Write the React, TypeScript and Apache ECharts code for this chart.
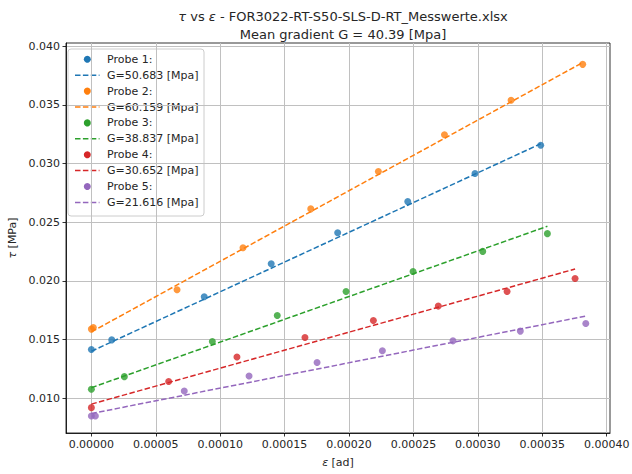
import React, { useEffect, useRef } from "react";
import * as echarts from "echarts";

// Measured shear stress tau [MPa] over shear strain eps [ad] for five specimens
const probeNames = ["Probe 1:", "Probe 2:", "Probe 3:", "Probe 4:", "Probe 5:"];
const gValues = [50.683, 60.159, 38.837, 30.652, 21.616];
const intercepts = [0.014, 0.01565, 0.0109, 0.0095, 0.0087];
const colors = ["#1f77b4", "#ff7f0e", "#2ca02c", "#d62728", "#9467bd"];

const probe1Eps = [0, 0.0000158, 0.0000876, 0.0001396, 0.0001912, 0.0002456, 0.0002978, 0.0003488];
const probe1Tau = [0.01415, 0.01497, 0.01864, 0.02146, 0.0241, 0.02675, 0.02914, 0.03155];

const probe2Eps = [0, 0.0000015, 0.0000665, 0.0001177, 0.0001703, 0.0002228, 0.0002741, 0.0003258, 0.0003814];
const probe2Tau = [0.01589, 0.01603, 0.01924, 0.02282, 0.02613, 0.02931, 0.03244, 0.03539, 0.03844];

const probe3Eps = [0, 0.0000256, 0.0000939, 0.0001443, 0.0001977, 0.0002497, 0.0003038, 0.000354];
const probe3Tau = [0.01077, 0.01184, 0.01483, 0.01705, 0.0191, 0.0208, 0.02251, 0.02402];

const probe4Eps = [0, 0.00006, 0.000113, 0.0001658, 0.0002189, 0.0002693, 0.0003227, 0.0003755];
const probe4Tau = [0.0092, 0.01142, 0.01352, 0.01517, 0.01662, 0.01785, 0.0191, 0.0202];

const probe5Eps = [0, 0.0000031, 0.0000721, 0.0001224, 0.0001752, 0.0002259, 0.0002807, 0.000333, 0.0003838];
const probe5Tau = [0.00849, 0.00849, 0.01062, 0.0119, 0.01304, 0.01404, 0.01489, 0.01572, 0.01637];

const epsSets = [probe1Eps, probe2Eps, probe3Eps, probe4Eps, probe5Eps];
const tauSets = [probe1Tau, probe2Tau, probe3Tau, probe4Tau, probe5Tau];

const xTicks = [0, 0.00005, 0.0001, 0.00015, 0.0002, 0.00025, 0.0003, 0.00035, 0.0004];
const yTicks = [0.01, 0.015, 0.02, 0.025, 0.03, 0.035, 0.04];

const X_MIN = -0.0000197;
const X_MAX = 0.0004026;
const Y_MIN = 0.00704;
const Y_MAX = 0.04026;

const FONT = "DejaVu Sans";
const TEXT = "#262626";

export default function App() {
  const ref = useRef<HTMLDivElement>(null);

  useEffect(() => {
    if (!ref.current) return;
    const chart = echarts.init(ref.current, null, { renderer: "svg" });

    const series: any[] = [];
    probeNames.forEach((name, i) => {
      const eps = epsSets[i];
      const tau = tauSets[i];
      series.push({
        type: "scatter",
        name,
        data: eps.map((e, k) => [e, tau[k]]),
        symbol: "circle",
        symbolSize: 7,
        itemStyle: { color: colors[i] },
        z: 2 + i * 2,
      });
      const x0 = Math.min(...eps);
      const x1 = Math.max(...eps);
      series.push({
        type: "line",
        name: "G=" + gValues[i].toFixed(3) + " [Mpa]",
        data: [
          [x0, intercepts[i] + gValues[i] * x0],
          [x1, intercepts[i] + gValues[i] * x1],
        ],
        showSymbol: false,
        symbol: "none",
        lineStyle: { color: colors[i], width: 1.5, type: [5.5, 2.4] },
        z: 3 + i * 2,
      });
    });

    // Legend drawn as a box of marker/line/text rows
    const legendX = 68;
    const legendY = 49;
    const rowStart = 59.3;
    const rowStep = 15.9;
    const legendChildren: any[] = [
      {
        type: "rect",
        shape: { x: legendX, y: legendY, width: 136, height: 167, r: 3 },
        style: { fill: "rgba(255,255,255,0.8)", stroke: "#cccccc", lineWidth: 1 },
      },
    ];
    probeNames.forEach((name, i) => {
      const yA = rowStart + rowStep * (2 * i);
      const yB = rowStart + rowStep * (2 * i + 1);
      legendChildren.push(
        { type: "circle", shape: { cx: 87.3, cy: yA, r: 3.5 }, style: { fill: colors[i] } },
        {
          type: "text",
          style: { x: 107, y: yA, text: name, fontSize: 11, fontFamily: FONT, fill: TEXT, verticalAlign: "middle", align: "left" },
        },
        {
          type: "line",
          shape: { x1: 75, y1: yB, x2: 99.5, y2: yB },
          style: { stroke: colors[i], lineWidth: 1.5, lineDash: [5.5, 2.4] },
        },
        {
          type: "text",
          style: {
            x: 107,
            y: yB,
            text: "G=" + gValues[i].toFixed(3) + " [Mpa]",
            fontSize: 11,
            fontFamily: FONT,
            fill: TEXT,
            verticalAlign: "middle",
            align: "left",
          },
        }
      );
    });

    const option: any = {
      animation: false,
      backgroundColor: "#ffffff",
      title: [
        {
          text: "{i|τ} vs {i|ε} - FOR3022-RT-S50-SLS-D-RT_Messwerte.xlsx",
          left: 338,
          top: 5,
          textAlign: "center",
          textStyle: {
            fontSize: 13,
            fontWeight: "normal",
            fontFamily: FONT,
            color: TEXT,
            rich: { i: { fontSize: 13, fontStyle: "italic", fontFamily: FONT, color: TEXT } },
          },
        },
        {
          text: "Mean gradient G = 40.39 [Mpa]",
          left: 338,
          top: 23,
          textAlign: "center",
          textStyle: { fontSize: 13, fontWeight: "normal", fontFamily: FONT, color: TEXT },
        },
      ],
      grid: {
        left: 66,
        top: 43,
        right: 22,
        bottom: 41,
        containLabel: false,
        outerBoundsMode: "none",
        show: true,
        borderColor: "#000",
        borderWidth: 0.8,
        backgroundColor: "transparent",
      },
      xAxis: {
        type: "value",
        min: X_MIN,
        max: X_MAX,
        name: "{i|ε} [ad]",
        nameLocation: "middle",
        nameGap: 24,
        nameTextStyle: {
          fontSize: 11,
          fontFamily: FONT,
          color: TEXT,
          rich: { i: { fontSize: 11, fontStyle: "italic", fontFamily: FONT, color: TEXT } },
        },
        axisLine: { show: true, onZero: false, lineStyle: { color: "#000", width: 0.8 } },
        axisTick: { show: true, length: 3.5, customValues: xTicks, lineStyle: { color: "#000", width: 0.8 } },
        axisLabel: {
          customValues: xTicks,
          formatter: (v: number) => v.toFixed(5),
          margin: 6,
          fontSize: 11,
          fontFamily: FONT,
          color: TEXT,
        },
        splitLine: { show: true, lineStyle: { color: "#c0c0c0", width: 1 } },
      },
      yAxis: {
        type: "value",
        min: Y_MIN,
        max: Y_MAX,
        name: "{i|τ} [MPa]",
        nameLocation: "middle",
        nameGap: 37,
        nameRotate: 90,
        nameTextStyle: {
          fontSize: 11,
          fontFamily: FONT,
          color: TEXT,
          rich: { i: { fontSize: 11, fontStyle: "italic", fontFamily: FONT, color: TEXT } },
        },
        axisLine: { show: true, onZero: false, lineStyle: { color: "#000", width: 0.8 } },
        axisTick: { show: true, length: 3.5, customValues: yTicks, lineStyle: { color: "#000", width: 0.8 } },
        axisLabel: {
          customValues: yTicks,
          formatter: (v: number) => v.toFixed(3),
          margin: 6,
          fontSize: 11,
          fontFamily: FONT,
          color: TEXT,
        },
        splitLine: { show: true, lineStyle: { color: "#c0c0c0", width: 1 } },
      },
      series,
      graphic: [{ type: "group", z: 100, children: legendChildren }],
    };

    chart.setOption(option);
    return () => chart.dispose();
  }, []);

  return <div ref={ref} style={{ position: "fixed", left: 0, top: 0, width: 632, height: 474 }} />;
}
